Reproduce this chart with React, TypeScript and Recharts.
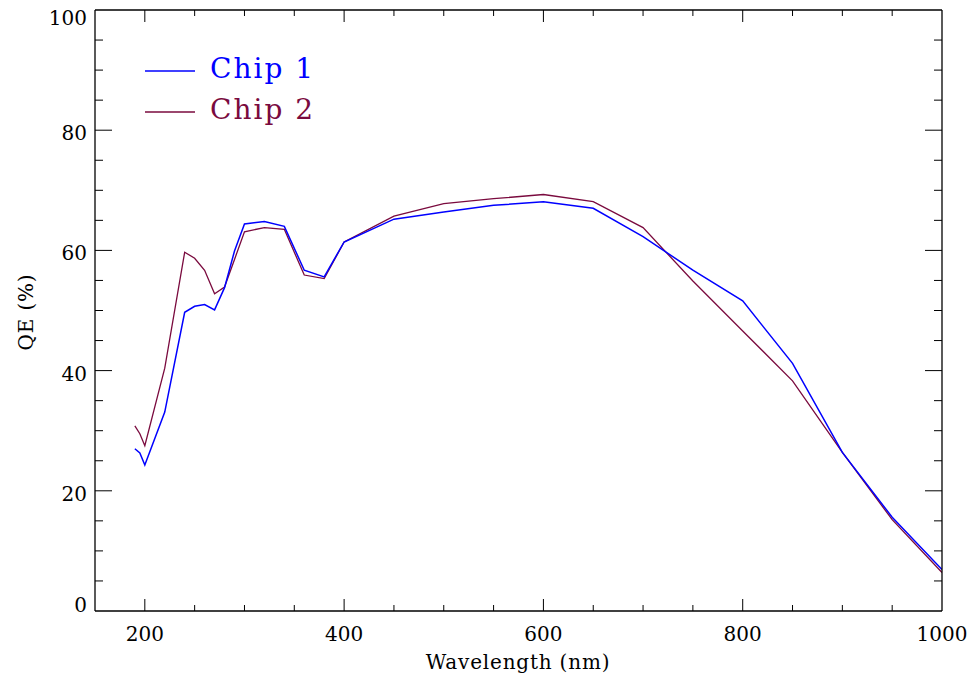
import React from "react";
import { LineChart, Line, XAxis, YAxis } from "recharts";

const wavelengths = [190, 195, 200, 220, 240, 250, 260, 270, 280, 290, 300, 320, 340, 360, 380, 400, 450, 500, 550, 600, 650, 700, 750, 800, 850, 900, 950, 1000];
const chip1 = [27.0, 26.3, 24.3, 33.1, 49.7, 50.7, 51.0, 50.1, 53.8, 59.9, 64.4, 64.8, 64.0, 56.7, 55.6, 61.4, 65.2, 66.4, 67.5, 68.1, 67.0, 62.3, 56.7, 51.6, 41.2, 26.4, 15.6, 6.9];
const chip2 = [30.8, 29.5, 27.5, 40.4, 59.7, 58.7, 56.7, 52.8, 53.9, 58.5, 63.1, 63.8, 63.5, 55.9, 55.3, 61.4, 65.7, 67.8, 68.6, 69.3, 68.1, 63.8, 54.9, 46.6, 38.3, 26.4, 15.2, 6.4];

const xTicks = [150, 200, 250, 300, 350, 400, 450, 500, 550, 600, 650, 700, 750, 800, 850, 900, 950, 1000];
const xMajor = [200, 400, 600, 800, 1000];
const yTicks = [0, 5, 10, 15, 20, 25, 30, 35, 40, 45, 50, 55, 60, 65, 70, 75, 80, 85, 90, 95, 100];
const yMajor = [0, 20, 40, 60, 80, 100];

const seriesNames = ["Chip 1", "Chip 2"];
const seriesColors = ["#0000ff", "#7a0a3e"];

const data = wavelengths.map((w, i) => ({ w, chip1: chip1[i], chip2: chip2[i] }));

const FONT = "DejaVu Serif";

const BottomTick = (props: any) => {
  const { x, y, payload } = props;
  const v = payload.value;
  const major = xMajor.includes(v);
  return (
    <g>
      {v !== 150 && v !== 1000 && (
        <line x1={x} x2={x} y1={y} y2={y - (major ? 12 : 6)} stroke="#000" strokeWidth={1} />
      )}
      {major && (
        <text x={x} y={y + 30} textAnchor="middle" fontFamily={FONT} fontSize={20} fill="#000">
          {v}
        </text>
      )}
    </g>
  );
};

const TopTick = (props: any) => {
  const { x, y, payload } = props;
  const v = payload.value;
  const major = xMajor.includes(v);
  if (v === 150 || v === 1000) return <g />;
  return <line x1={x} x2={x} y1={y} y2={y + (major ? 12 : 6)} stroke="#000" strokeWidth={1} />;
};

const LeftTick = (props: any) => {
  const { x, y, payload } = props;
  const v = payload.value;
  const major = yMajor.includes(v);
  const dy = v === 100 ? 15 : v === 0 ? 1 : 10;
  return (
    <g>
      {v !== 0 && v !== 100 && (
        <line x1={x} x2={x + (major ? 17 : 8)} y1={y} y2={y} stroke="#000" strokeWidth={1} />
      )}
      {major && (
        <text x={x - 8} y={y + dy} textAnchor="end" fontFamily={FONT} fontSize={20} fill="#000">
          {v}
        </text>
      )}
    </g>
  );
};

const RightTick = (props: any) => {
  const { x, y, payload } = props;
  const v = payload.value;
  const major = yMajor.includes(v);
  if (v === 0 || v === 100) return <g />;
  return <line x1={x} x2={x - (major ? 17 : 8)} y1={y} y2={y} stroke="#000" strokeWidth={1} />;
};

const axisLine = { stroke: "#000", strokeWidth: 1.3 };

export default function App() {
  return (
    <div style={{ position: "absolute", left: 0, top: 0, width: 971, height: 675, background: "#fff" }}>
      <LineChart width={971} height={675} data={data} margin={{ top: 0, right: 0, bottom: 0, left: 0 }}>
        <XAxis
          xAxisId="bottom"
          dataKey="w"
          type="number"
          domain={[150, 1000]}
          ticks={xTicks}
          interval={0}
          height={64}
          tickSize={0}
          tickMargin={0}
          axisLine={axisLine}
          tick={<BottomTick />}
          allowDataOverflow
        />
        <XAxis
          xAxisId="top"
          orientation="top"
          dataKey="w"
          type="number"
          domain={[150, 1000]}
          ticks={xTicks}
          interval={0}
          height={10}
          tickSize={0}
          tickMargin={0}
          axisLine={axisLine}
          tick={<TopTick />}
          allowDataOverflow
        />
        <YAxis
          yAxisId="left"
          type="number"
          domain={[0, 100]}
          ticks={yTicks}
          interval={0}
          width={95}
          tickSize={0}
          tickMargin={0}
          axisLine={axisLine}
          tick={<LeftTick />}
          allowDataOverflow
        />
        <YAxis
          yAxisId="right"
          orientation="right"
          type="number"
          domain={[0, 100]}
          ticks={yTicks}
          interval={0}
          width={29}
          tickSize={0}
          tickMargin={0}
          axisLine={axisLine}
          tick={<RightTick />}
          allowDataOverflow
        />
        <Line
          xAxisId="bottom"
          yAxisId="left"
          type="linear"
          dataKey="chip2"
          name={seriesNames[1]}
          stroke={seriesColors[1]}
          strokeWidth={1.3}
          dot={false}
          isAnimationActive={false}
        />
        <Line
          xAxisId="bottom"
          yAxisId="left"
          type="linear"
          dataKey="chip1"
          name={seriesNames[0]}
          stroke={seriesColors[0]}
          strokeWidth={1.5}
          dot={false}
          isAnimationActive={false}
        />
      </LineChart>
      <svg width={971} height={675} style={{ position: "absolute", left: 0, top: 0, pointerEvents: "none" }}>
        <text x={518} y={669} textAnchor="middle" fontFamily={FONT} fontSize={20} letterSpacing={0.8} fill="#000">
          Wavelength (nm)
        </text>
        <text
          x={0}
          y={0}
          transform="translate(33, 312) rotate(-90)"
          textAnchor="middle"
          fontFamily={FONT}
          fontSize={20}
          letterSpacing={0.8}
          fill="#000"
        >
          QE (%)
        </text>
        {seriesNames.map((n, i) => (
          <g key={n}>
            <line x1={145} x2={195} y1={71 + i * 41} y2={71 + i * 41} stroke={seriesColors[i]} strokeWidth={1.3} />
            <text x={210} y={78 + i * 41} fontFamily={FONT} fontSize={28} letterSpacing={2} fill={seriesColors[i]}>
              {n}
            </text>
          </g>
        ))}
      </svg>
    </div>
  );
}
